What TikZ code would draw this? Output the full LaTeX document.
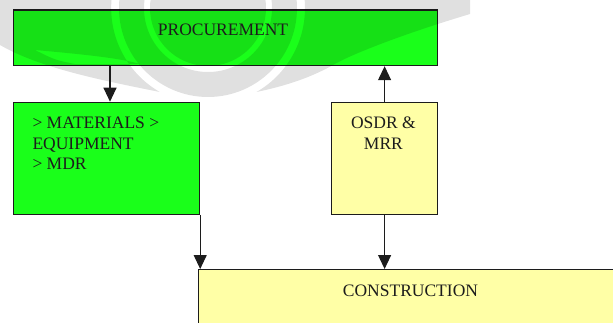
\documentclass[tikz,border=0pt]{standalone}
\usepackage{fontspec}
\setmainfont{Liberation Serif}
\usetikzlibrary{arrows.meta}
\definecolor{boxgreen}{RGB}{26,255,26}
\definecolor{boxyellow}{RGB}{255,255,166}
\definecolor{ink}{RGB}{28,28,28}
\begin{document}
\begin{tikzpicture}[x=1pt,y=-1pt,
  box/.style={draw=ink, line width=1.2pt, inner sep=0pt, anchor=north west},
  lbl/.style={inner sep=0pt, font=\fontsize{17.5}{20.5}\selectfont, text=ink},
  flow/.style={draw=ink, line width=1.1pt, -{Triangle[length=14pt,width=13pt]}},
  logoshade/.style={fill=black, fill opacity=0.12, even odd rule},
]
\useasboundingbox (0,0) rectangle (613,322);
\clip (0,0) rectangle (613,322);

% boxes
\node[box, fill=boxgreen, minimum width=424.3pt, minimum height=55.7pt] (proc) at (12.7,9.3) {};
\node[box, fill=boxgreen, minimum width=186.3pt, minimum height=112pt] (mat) at (12.7,101.7) {};
\node[box, fill=boxyellow, minimum width=106pt, minimum height=112pt] (osdr) at (331,101.7) {};
\node[box, fill=boxyellow, minimum width=430pt, minimum height=70pt] (cons) at (198,269) {};

% faint logo watermark across the top: central disc with a thin ring, two wings
\fill[logoshade] (208,8) circle[radius=89] (208,8) circle[radius=64] (208,8) circle[radius=58];
\fill[logoshade]
  (-50,0) -- (111.5,0) arc[start angle=184.7, end angle=120, radius=97]
  .. controls (100,80) and (40,68) .. (0,45) .. controls (-20,32) .. (-50,15) -- cycle
  (35,50) .. controls (80,54) and (120,58) .. (140,64) -- (75,64) .. controls (55,60) .. (35,50) -- cycle;
\fill[logoshade]
  (304.5,0) -- (470,0) -- (470,14) .. controls (400,35) and (350,55) .. (333,65)
  .. controls (310,78) and (285,86) .. (256.5,92)
  arc[start angle=60, end angle=-4.7, radius=97] -- cycle;

% labels
\node[lbl, anchor=base] (procT) at (223,35.7) {PROCUREMENT};
\node[lbl, anchor=north west, align=left] (matT) at (32.3,117) {> MATERIALS >\\EQUIPMENT\\> MDR};
\node[lbl, anchor=north, align=center] (osdrT) at (383.4,116.7) {OSDR \&\\MRR};
\node[lbl, anchor=base west] (consT) at (342.7,296) {CONSTRUCTION};

% connectors
\coordinate (xa) at (110,0);
\draw[flow] (proc.south -| xa) -- (mat.north -| xa);
\draw[flow] (osdr.north) -- (osdr.north |- proc.south);
\draw[flow] (mat.south east) -- (mat.south east |- cons.north);
\draw[flow] (osdr.south) -- (osdr.south |- cons.north);
\end{tikzpicture}
\end{document}
